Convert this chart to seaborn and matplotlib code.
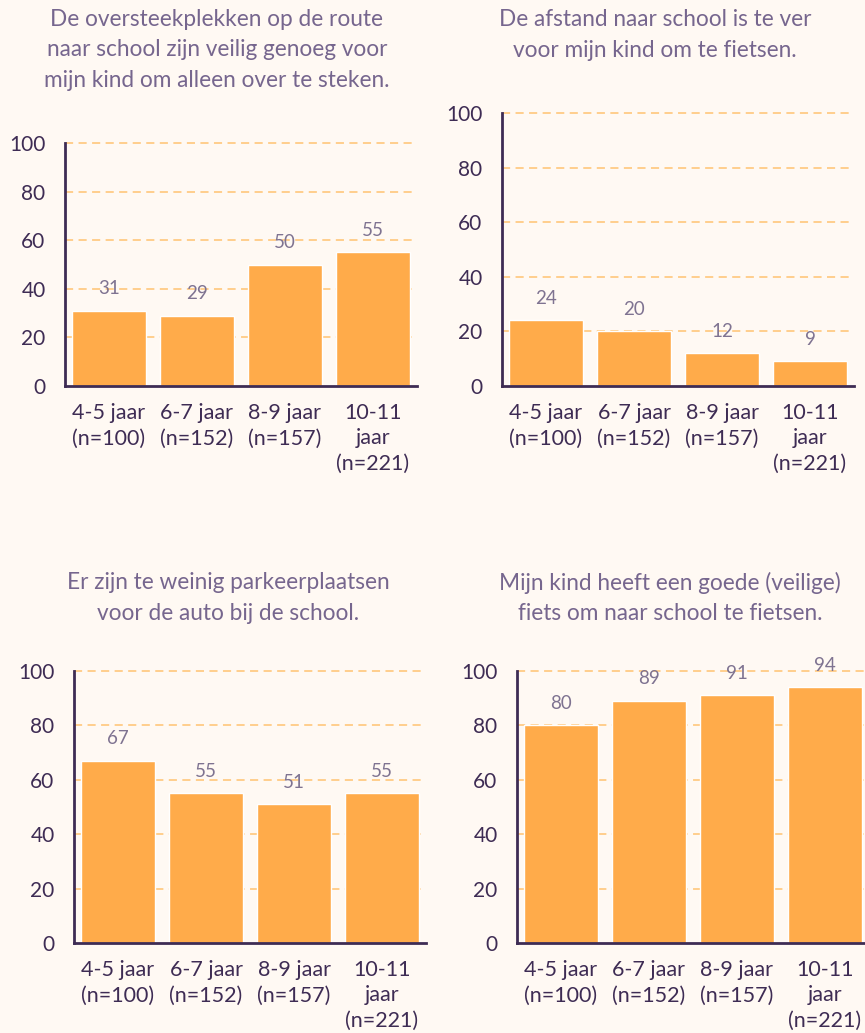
import matplotlib
matplotlib.use("Agg")
import matplotlib.pyplot as plt
import seaborn as sns
import pandas as pd

# --- data ---
categories = ["4-5 jaar\n(n=100)", "6-7 jaar\n(n=152)", "8-9 jaar\n(n=157)", "10-11\njaar\n(n=221)"]

titles = [
    "De oversteekplekken op de route\nnaar school zijn veilig genoeg voor\nmijn kind om alleen over te steken.",
    "De afstand naar school is te ver\nvoor mijn kind om te fietsen.",
    "Er zijn te weinig parkeerplaatsen\nvoor de auto bij de school.",
    "Mijn kind heeft een goede (veilige)\nfiets om naar school te fietsen.",
]

oversteek = [31, 29, 50, 55]
afstand = [24, 20, 12, 9]
parkeren = [67, 55, 51, 55]
goede_fiets = [80, 89, 91, 94]

yticks = [0, 20, 40, 60, 80, 100]

# --- style ---
BG = "#FFF9F3"
BAR = "#FFAB4A"
GRID = "#FFCB85"
DARK = "#3E2C54"
TITLE = "#76668E"
LABEL = "#7F7391"

sns.set_theme(style="white")
plt.rcParams["font.family"] = ["Lato", "DejaVu Sans"]

W, H = 865, 1033
fig = plt.figure(figsize=(W / 100, H / 100), dpi=100, facecolor=BG)

# (axes left px, y0 px, y100 px, title centre x px, title centre y px)
panels = [
    (oversteek, 65, 386, 143, 217, 50),
    (afstand, 502, 386, 113, 655, 35),
    (parkeren, 74, 943, 671, 228, 598),
    (goede_fiets, 517, 943, 671, 670, 598),
]
axis_w = 352

for (vals, left, y0, y100, tx, ty), title in zip(panels, titles):
    ax = fig.add_axes([left / W, 1 - y0 / H, axis_w / W, (y0 - y100) / H])
    ax.set_facecolor(BG)
    df = pd.DataFrame({"groep": categories, "pct": vals})
    sns.barplot(data=df, x="groep", y="pct", color=BAR, saturation=1,
                width=0.83, ax=ax, zorder=3)
    ax.set_xlim(-0.5, 3.5)
    ax.set_ylim(0, 100)
    ax.set_yticks(yticks)
    for t in yticks[1:]:
        ax.axhline(t, color=GRID, lw=1.3, ls=(0, (4.5, 3)), zorder=1, clip_on=False)
    ax.set_xlabel("")
    ax.set_ylabel("")
    for side in ["top", "right"]:
        ax.spines[side].set_visible(False)
    for side in ["left", "bottom"]:
        ax.spines[side].set_color(DARK)
        ax.spines[side].set_linewidth(2)
        ax.spines[side].set_zorder(4)
    ax.tick_params(axis="y", length=0, pad=14, labelsize=15, labelcolor=DARK)
    ax.tick_params(axis="x", length=0, pad=12, labelsize=15.5, labelcolor=DARK)
    for lab in ax.get_xticklabels():
        lab.set_linespacing(1.36)
    for i, v in enumerate(vals):
        ax.annotate(str(v), (i, v), xytext=(0, 16), textcoords="offset points",
                    ha="center", va="center", fontsize=13.5, color=LABEL,
                    zorder=5)
    fig.text(tx / W, 1 - ty / H, title, ha="center", va="center",
             multialignment="center", fontsize=16.3, color=TITLE,
             linespacing=1.55)

fig.savefig("out.png", dpi=100, facecolor=BG)
